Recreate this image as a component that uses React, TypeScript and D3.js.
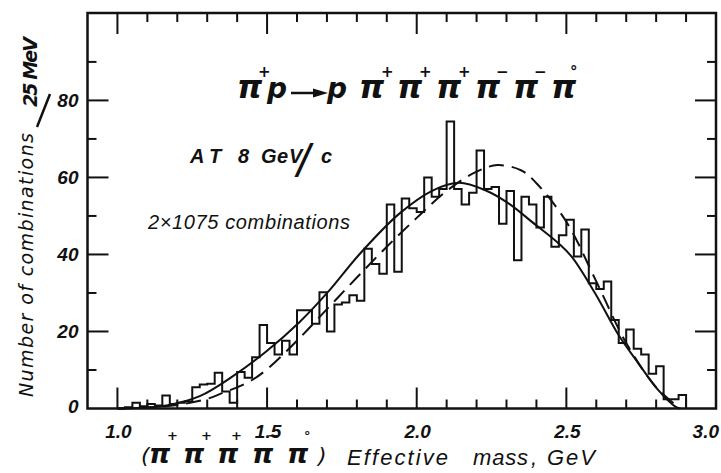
import * as d3 from 'd3';
import { useEffect, useRef } from 'react';

const W = 721;
const H = 473;

// histogram: 25 MeV bins starting at 1.000 GeV
const binStart = 1.0;
const binWidth = 0.025;
const counts = [
  0, 0.3, 1.5, 0.6, 1.2, 0.8, 3.4, 1.2, 1.5, 1.8,
  5.5, 6.2, 6.4, 9.3, 4.4, 1.5, 9.5, 8, 13.3, 21.7,
  17, 14, 17.6, 14, 25.5, 25.5, 22, 30.2, 20, 27,
  27.5, 29.4, 28, 41.5, 37.5, 35, 53, 35.5, 54.5, 52,
  51, 60, 55, 57, 74.5, 57, 53, 56, 67, 57,
  57.5, 48, 56.5, 38.5, 55, 53, 47, 55, 42, 45,
  49, 39.5, 46.5, 32.5, 31, 33, 23, 17, 20.5, 15.5,
  14, 9, 11, 2.4, 2.4, 3.5,
];

// solid curve
const solidMass = [1.0, 1.08, 1.164, 1.275, 1.386, 1.497, 1.608, 1.703, 1.808, 1.942, 2.053, 2.142, 2.231, 2.308, 2.386, 2.475, 2.519, 2.597, 2.675, 2.742, 2.808, 2.864, 2.88];
const solidCounts = [0, 0.2, 0.8, 3.2, 8.4, 14.8, 22.4, 30.2, 40, 50.6, 56.6, 58.6, 56.6, 53.2, 48.4, 42.8, 39.3, 29.8, 19, 11.6, 4.7, 0.5, 0];

// dashed curve
const dashMass = [1.0, 1.1, 1.2, 1.3, 1.35, 1.4, 1.45, 1.5, 1.6, 1.7, 1.8, 1.9, 2.0, 2.1, 2.2, 2.27, 2.35, 2.4, 2.5, 2.6, 2.7, 2.8, 2.88];
const dashCounts = [0, 0.3, 0.9, 2.5, 4.0, 5.5, 7.4, 10.2, 17.6, 25.8, 34, 42, 49.5, 56.5, 61.5, 63.2, 61.8, 58.5, 48.5, 33, 17, 5.5, 0];

const xTickLabels = ['1.0', '1.5', '2.0', '2.5', '3.0'];
const yTickLabels = ['0', '20', '40', '60', '80'];

const App = () => {
  const ref = useRef<SVGGElement>(null);

  useEffect(() => {
    const g = d3.select(ref.current);
    g.selectAll('*').remove();

    const x = d3.scaleLinear([0.9, 3.0], [87.5, 716]);
    const y = d3.scaleLinear([0, 102.7], [408.5, 13]);
    const [x0, x1] = x.range();
    const [y0, y1] = y.range();

    // histogram outline
    const pts: [number, number][] = counts.map((c, i) => [binStart + i * binWidth, c]);
    pts.push([binStart + counts.length * binWidth, 0]);
    const step = d3
      .line<[number, number]>()
      .x((d) => x(d[0]))
      .y((d) => y(d[1]))
      .curve(d3.curveStepAfter);
    g.append('path').attr('d', step(pts)).attr('fill', 'none').attr('stroke', '#111').attr('stroke-width', 2);

    const curve = d3
      .line<[number, number]>()
      .x((d) => x(d[0]))
      .y((d) => y(d[1]))
      .curve(d3.curveCatmullRom.alpha(0.5));
    g.append('path')
      .attr('d', curve(solidMass.map((m, i) => [m, solidCounts[i]])))
      .attr('fill', 'none')
      .attr('stroke', '#111')
      .attr('stroke-width', 2);
    g.append('path')
      .attr('d', curve(dashMass.map((m, i) => [m, dashCounts[i]])))
      .attr('fill', 'none')
      .attr('stroke', '#111')
      .attr('stroke-width', 2)
      .attr('stroke-dasharray', '15 8');

    // frame
    g.append('rect')
      .attr('x', x0)
      .attr('y', y1)
      .attr('width', x1 - x0)
      .attr('height', y0 - y1)
      .attr('fill', 'none')
      .attr('stroke', '#111')
      .attr('stroke-width', 2.5);

    const ticks = g.append('g').attr('stroke', '#111').attr('stroke-width', 2);
    const isMajorX = (t: number) => Math.abs(t * 2 - Math.round(t * 2)) < 1e-6;
    x.ticks(21)
      .filter((t) => t > 0.95 && t < 2.95)
      .forEach((t) => {
        const len = isMajorX(t) ? 21 : 9;
        ticks.append('line').attr('x1', x(t)).attr('x2', x(t)).attr('y1', y0).attr('y2', y0 - len);
        ticks.append('line').attr('x1', x(t)).attr('x2', x(t)).attr('y1', y1).attr('y2', y1 + len);
      });
    y.ticks(10)
      .filter((t) => t > 0 && t < 100)
      .forEach((t) => {
        const len = t % 20 === 0 ? 21 : 9;
        ticks.append('line').attr('x1', x0).attr('x2', x0 + len).attr('y1', y(t)).attr('y2', y(t));
        ticks.append('line').attr('x1', x1).attr('x2', x1 - len).attr('y1', y(t)).attr('y2', y(t));
      });

    const tickFont = (sel: any) =>
      sel
        .attr('font-family', 'Liberation Sans, Arial, sans-serif')
        .attr('font-style', 'italic')
        .attr('font-weight', 'bold')
        .attr('font-size', 19)
        .attr('fill', '#111');

    yTickLabels.forEach((l) => {
      const v = +l;
      g.append('text')
        .call(tickFont)
        .attr('x', x0 - 9)
        .attr('y', y(v) + (v === 0 ? 4 : 7))
        .attr('text-anchor', 'end')
        .text(l);
    });
    xTickLabels.forEach((l) => {
      const v = +l;
      const t = g.append('text').call(tickFont).attr('y', 438).text(l);
      if (v >= 3) t.attr('x', 719).attr('text-anchor', 'end');
      else t.attr('x', x(v) + 1).attr('text-anchor', 'middle');
    });
  }, []);

  const pi = { fontFamily: 'DejaVu Sans, sans-serif', fontStyle: 'italic', fontWeight: 'bold' } as const;
  const sans = { fontFamily: 'Liberation Sans, Arial, sans-serif', fontStyle: 'italic' } as const;

  // title glyph layout
  const titlePis = [
    { x: 359, s: '+', sx: 381 },
    { x: 397, s: '+', sx: 419 },
    { x: 436, s: '+', sx: 458 },
    { x: 475, s: '\u2212', sx: 496 },
    { x: 513, s: '\u2212', sx: 534 },
    { x: 551, s: '\u00b0', sx: 570 },
  ];
  const axisPis = [
    { x: 149, s: '+', sx: 167 },
    { x: 183, s: '+', sx: 201 },
    { x: 217, s: '+', sx: 231 },
    { x: 252, s: '\u2212', sx: 268 },
    { x: 287, s: '\u00b0', sx: 304 },
  ];

  return (
    <svg width={W} height={H} style={{ position: 'absolute', left: 0, top: 0, background: '#fff' }}>
      <rect width={W} height={H} fill="#fff" />
      <g ref={ref} />
      {/* reaction title */}
      <text fill="#111" {...pi}>
        <tspan x={237} y={98} fontSize={32}>π</tspan>
        <tspan x={258} y={77} fontSize={15}>+</tspan>
        <tspan x={267} y={98} fontSize={28}>p</tspan>
        <tspan x={327} y={98} fontSize={28}>p</tspan>
        {titlePis.map((p, i) => [
          <tspan key={'p' + i} x={p.x} y={98} fontSize={32}>π</tspan>,
          <tspan key={'s' + i} x={p.sx} y={77} fontSize={15}>{p.s}</tspan>,
        ])}
      </text>
      <path d="M291,93 L315,93" stroke="#111" strokeWidth={2.5} />
      <path d="M313,88.5 L328,93 L313,97.5 Z" fill="#111" />

      {/* beam momentum */}
      <text fill="#111" {...sans} fontWeight="bold" fontSize={20}>
        <tspan x={190} y={163}>A</tspan>
        <tspan x={209} y={163}>T</tspan>
        <tspan x={238} y={163}>8</tspan>
        <tspan x={261} y={163}>G</tspan>
        <tspan x={277} y={163}>e</tspan>
        <tspan x={289} y={163}>V</tspan>
        <tspan x={297} y={177} fontSize={46} fontWeight="normal">/</tspan>
        <tspan x={321} y={163}>c</tspan>
      </text>

      <text x={148} y={229} fill="#111" {...sans} fontSize={20} textLength={202} lengthAdjust="spacing">
        2×1075 combinations
      </text>

      {/* x axis title */}
      <text fill="#111" {...sans} fontSize={22}>
        <tspan x={141} y={463} {...pi} fontWeight="normal">(</tspan>
        {axisPis.map((p, i) => [
          <tspan key={'a' + i} x={p.x} y={463} {...pi} fontSize={27}>π</tspan>,
          <tspan key={'b' + i} x={p.sx} y={440} {...pi} fontSize={13}>{p.s}</tspan>,
        ])}
        <tspan x={318} y={463} {...pi} fontWeight="normal">)</tspan>
        <tspan x={347} y={465} textLength={101} lengthAdjust="spacing">Effective</tspan>
        <tspan x={473} y={465} textLength={55} lengthAdjust="spacing">mass</tspan>
        <tspan x={531} y={465}>,</tspan>
        <tspan x={547} y={465} textLength={48} lengthAdjust="spacing">GeV</tspan>
      </text>

      {/* y axis title */}
      <g transform="translate(33,265) rotate(-90)">
        <text textAnchor="middle" fill="#111" fontFamily="DejaVu Sans, sans-serif" fontStyle="italic" fontSize={19} textLength={264} lengthAdjust="spacing">
          Number of combinations
        </text>
      </g>
      <path d="M37,127 L50,94" stroke="#111" strokeWidth={2.5} />
      <g transform="translate(37,72) rotate(-90)">
        <text textAnchor="middle" fill="#111" fontFamily="DejaVu Sans, sans-serif" fontStyle="italic" fontWeight="bold" fontSize={19} textLength={70} lengthAdjust="spacing">
          25 MeV
        </text>
      </g>
    </svg>
  );
};

export default App;
